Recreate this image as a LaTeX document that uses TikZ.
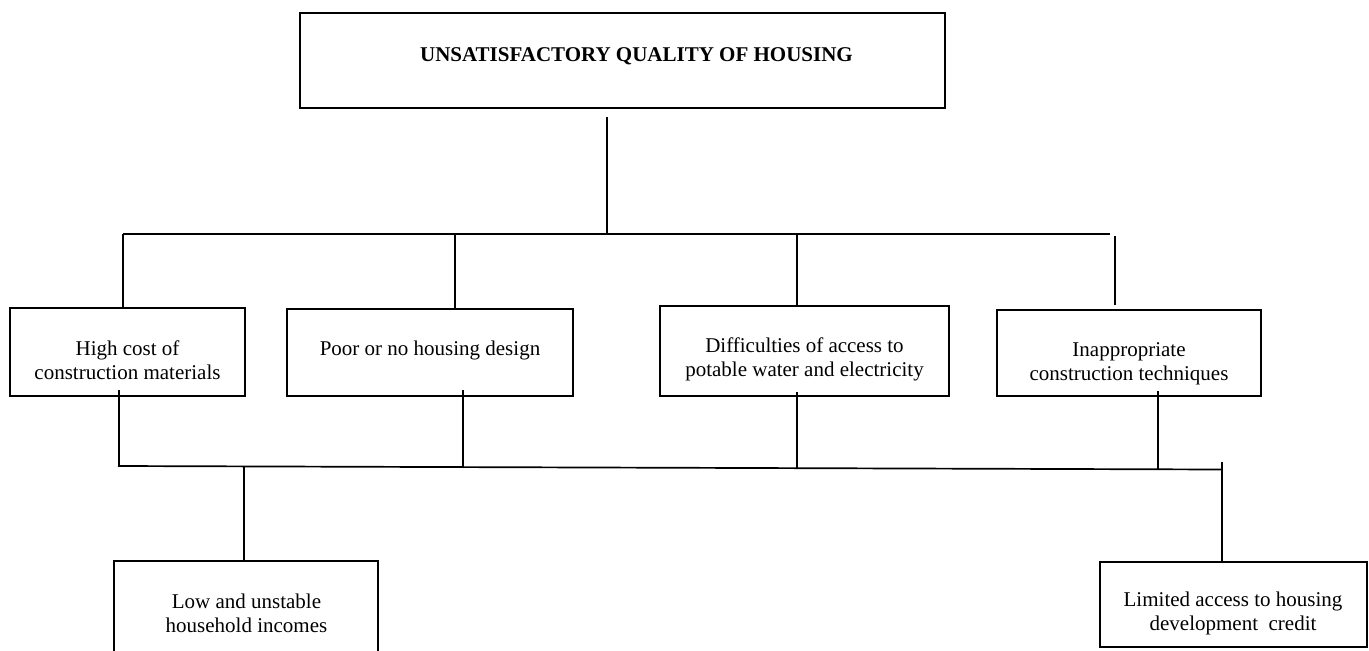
\documentclass[tikz,border=0pt]{standalone}
\usepackage{fontspec}
\setmainfont{Liberation Serif}
\newcommand{\twoline}[2]{\begin{tabular}[t]{@{}c@{}}#1\\#2\end{tabular}}
\begin{document}
\begin{tikzpicture}[x=1pt,y=-1pt,
  box/.style={draw, line width=2pt, inner sep=0pt, outer sep=0pt, anchor=north west},
  lbl/.style={inner sep=0pt, anchor=base, font=\fontsize{21}{24}\selectfont},
  link/.style={line width=1.7pt}]
\path[use as bounding box, clip] (0,0) rectangle (1369,651);

% boxes
\node[box, minimum width=645pt, minimum height=95pt] (top) at (300,13) {};
\node[box, minimum width=235pt, minimum height=88pt] (b1) at (10,308) {};
\node[box, minimum width=286pt, minimum height=87pt] (b2) at (287,309) {};
\node[box, minimum width=289pt, minimum height=90pt] (b3) at (660,306) {};
\node[box, minimum width=264pt, minimum height=86pt] (b4) at (997,310) {};
\node[box, minimum width=267pt, minimum height=85pt] (b5) at (1100,562) {};
\node[box, minimum width=264pt, minimum height=110pt] (b6) at (114,561) {};

% texts
\node[lbl, font=\fontsize{21}{24}\selectfont\bfseries] (ttop) at (636.5,61) {UNSATISFACTORY QUALITY OF HOUSING};
\node[lbl] (t1) at (127.5,355) {\twoline{High cost of}{construction materials}};
\node[lbl] (t2) at (430,355) {Poor or no housing design};
\node[lbl] (t3) at (804.5,352) {\twoline{Difficulties of access to}{potable water and electricity}};
\node[lbl] (t4) at (1129,356.7) {\twoline{Inappropriate}{construction techniques}};
\node[lbl] (t5) at (1233,606.7) {\twoline{Limited access to housing}{development\ \ credit}};
\node[lbl] (t6) at (246.5,608) {\twoline{Low and unstable}{household incomes}};

% upper tree
\coordinate (hs) at (607,117);
\coordinate (hub) at (607,234);
\coordinate (ubL) at (123,234);
\coordinate (ubR) at (1110,234);
\coordinate (u2) at (455,234);
\coordinate (u3) at (797,234);
\coordinate (u4a) at (1115,236);
\coordinate (u4b) at (1115,305);
\draw[link] (hs) -- (hub);
\draw[link] (ubL) -- (ubR);
\draw[link] (ubL) -- (ubL |- b1.north);
\draw[link] (u2) -- (u2 |- b2.north);
\draw[link] (u3) -- (u3 |- b3.north);
\draw[link] (u4a) -- (u4b);

% lower tree
\coordinate (lbL) at (118,466);
\coordinate (lbR) at (1222,469.5);
\coordinate (s1) at (119,390);   \coordinate (e1) at (119,466);
\coordinate (s2) at (463,390);   \coordinate (e2) at (463,467.1);
\coordinate (s3) at (797,392);   \coordinate (e3) at (797,468.2);
\coordinate (s4) at (1158,391);  \coordinate (e4) at (1158,469.3);
\coordinate (j6) at (244,466.4);
\coordinate (j5) at (1222,462);
\draw[link] (lbL) -- (lbR);
\draw[link] (s1) -- (e1);
\draw[link] (s2) -- (e2);
\draw[link] (s3) -- (e3);
\draw[link] (s4) -- (e4);
\draw[link] (j6) -- (j6 |- b6.north);
\draw[link] (j5) -- (j5 |- b5.north);
\end{tikzpicture}
\end{document}
